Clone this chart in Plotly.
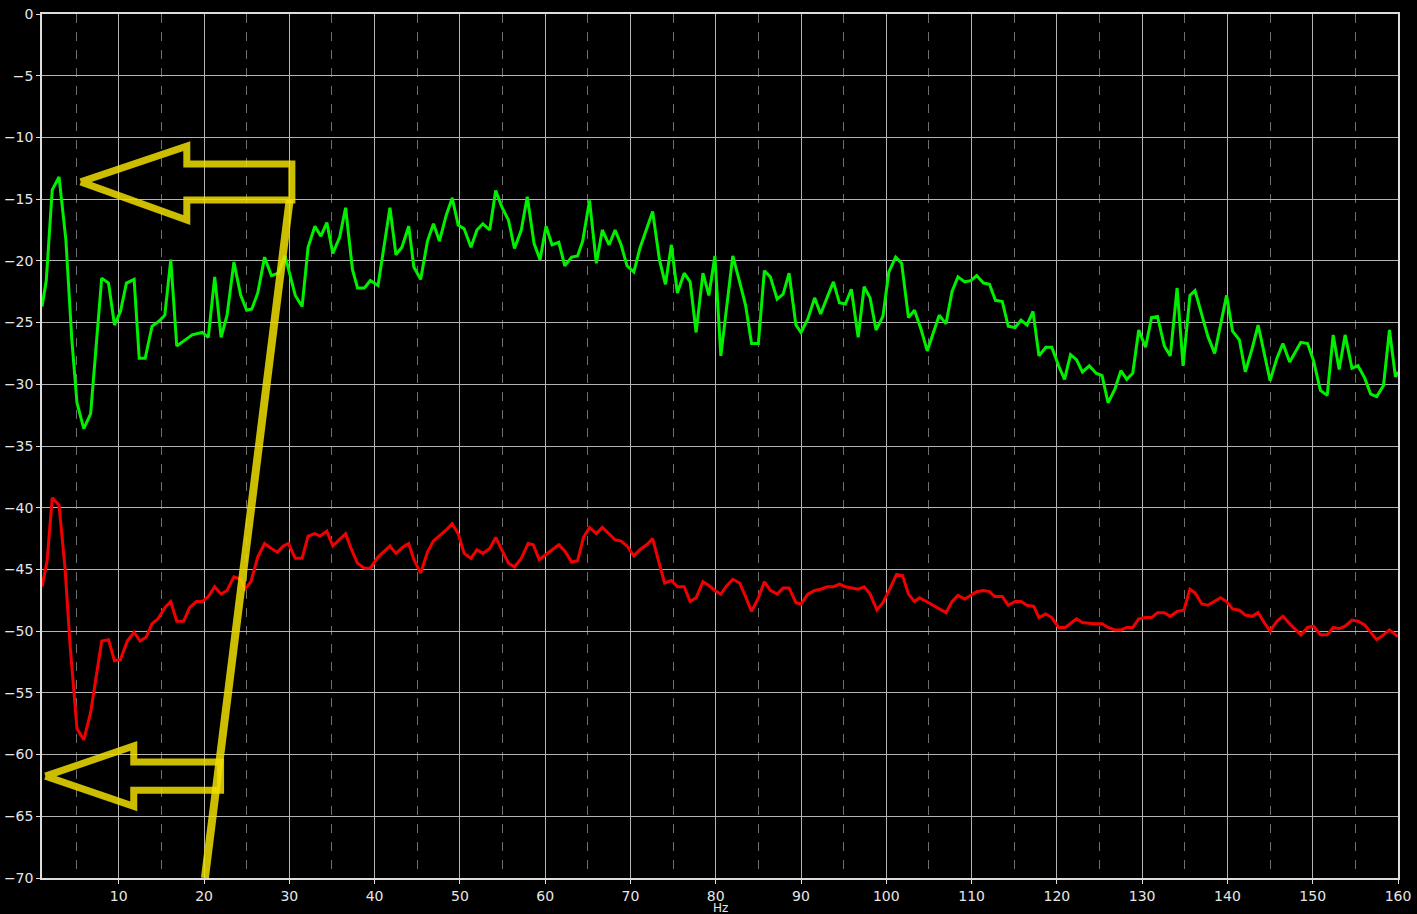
import plotly.graph_objects as go

# ---- data ----
green_hz = [1.0, 1.5, 2.2, 3.0, 3.8, 4.5, 5.1, 5.9, 6.7, 7.3, 8.0, 8.8, 9.5, 10.2, 10.9, 11.8, 12.4, 13.1,
            13.9, 14.7, 15.4, 16.1, 16.8, 17.8, 18.6, 19.8, 20.5, 21.25, 22.0, 22.7, 23.5, 24.3, 25.0, 25.6,
            26.3, 27.1, 27.9, 28.7, 29.5, 30.7, 31.5, 32.2, 33.0, 33.7, 34.4, 35.1, 35.9, 36.6, 37.4, 38.0,
            38.8, 39.5, 40.4, 41.8, 42.5, 43.2, 44.0, 44.6, 45.4, 46.2, 46.9, 47.6, 48.4, 49.1, 49.8, 50.5,
            51.3, 52.0, 52.7, 53.5, 54.2, 54.9, 55.7, 56.4, 57.2, 57.9, 58.7, 59.4, 60.1, 60.8, 61.6, 62.3,
            63.1, 63.8, 64.4, 65.2, 66.0, 66.7, 67.5, 68.2, 68.9, 69.6, 70.4, 71.1, 71.9, 72.6, 73.4, 74.1,
            74.8, 75.5, 76.3, 77.0, 77.7, 78.5, 79.2, 79.9, 80.6, 82.0, 82.8, 83.5, 84.2, 85.0, 85.7, 86.4,
            87.2, 87.9, 88.6, 89.4, 90.0, 90.8, 91.6, 92.3, 93.1, 93.8, 94.5, 95.2, 95.9, 96.7, 97.4, 98.1,
            98.8, 99.6, 100.3, 101.1, 101.8, 102.6, 103.3, 104.1, 104.8, 105.5, 106.2, 107.0, 107.7, 108.4,
            109.2, 109.9, 110.6, 111.4, 112.1, 112.8, 113.6, 114.3, 115.1, 115.8, 116.5, 117.2, 117.9, 118.7,
            119.4, 120.2, 120.9, 121.6, 122.3, 123.0, 123.8, 124.6, 125.3, 126.0, 126.8, 127.5, 128.2, 128.9,
            129.6, 130.4, 131.1, 131.8, 132.6, 133.3, 134.1, 134.8, 135.6, 136.2, 137.0, 137.7, 138.5, 139.2,
            139.9, 140.6, 141.4, 142.1, 142.9, 143.6, 144.3, 145.0, 145.8, 146.5, 147.3, 148.0, 148.6, 149.4,
            150.1, 150.9, 151.7, 152.4, 153.1, 153.8, 154.6, 155.3, 156.1, 156.8, 157.5, 158.3, 159.0, 159.7,
            160.0]
green_db = [-23.7, -21.6, -14.25, -13.2, -18.3, -26.4, -31.5, -33.6, -32.4, -27.0, -21.4, -21.8, -25.2, -24.1,
            -21.8, -21.5, -27.9, -27.9, -25.3, -24.9, -24.4, -19.9, -26.9, -26.4, -26.0, -25.8, -26.2, -21.3,
            -26.2, -24.4, -20.1, -22.8, -24.0, -23.9, -22.6, -19.7, -21.2, -21.0, -19.6, -22.8, -23.7, -18.9,
            -17.2, -18.0, -16.9, -19.4, -18.1, -15.7, -20.7, -22.2, -22.2, -21.6, -22.0, -15.7, -19.5, -18.9,
            -17.2, -20.5, -21.5, -18.4, -17.0, -18.4, -16.3, -14.9, -17.1, -17.4, -18.9, -17.5, -17.0, -17.5,
            -14.3, -15.6, -16.7, -19.0, -17.5, -14.8, -18.6, -19.9, -17.2, -18.7, -18.5, -20.4, -19.7, -19.6,
            -18.4, -15.1, -20.2, -17.5, -18.7, -17.5, -18.7, -20.4, -20.9, -19.0, -17.4, -16.0, -19.9, -21.9,
            -18.7, -22.6, -21.0, -21.7, -25.8, -21.0, -22.8, -19.6, -27.7, -19.6, -21.7, -23.6, -26.7, -26.7,
            -20.8, -21.3, -23.1, -22.7, -21.0, -25.2, -25.8, -24.7, -23.0, -24.3, -22.9, -21.7, -23.4, -23.5,
            -22.3, -26.2, -22.1, -23.0, -25.6, -24.5, -20.9, -19.7, -20.2, -24.6, -24.0, -25.6, -27.3, -25.9,
            -24.4, -25.1, -22.5, -21.3, -21.7, -21.6, -21.2, -21.8, -21.9, -23.2, -23.3, -25.3, -25.4, -24.8,
            -25.2, -24.1, -27.7, -27.0, -27.0, -28.5, -29.6, -27.6, -28.0, -29.0, -28.5, -29.1, -29.3, -31.5,
            -30.4, -28.9, -29.6, -29.1, -25.6, -27.0, -24.6, -24.5, -26.9, -27.7, -22.2, -28.5, -22.8, -22.4,
            -24.3, -26.1, -27.5, -25.2, -22.8, -25.7, -26.4, -29.0, -27.1, -25.2, -27.6, -29.7, -27.9, -26.7,
            -28.2, -27.4, -26.6, -26.7, -28.1, -30.5, -30.9, -26.0, -28.8, -26.0, -28.7, -28.5, -29.5, -30.8,
            -31.0, -30.1, -25.6, -29.4, -29.0]

red_hz = [1.0, 1.6, 2.2, 3.0, 3.7, 4.3, 5.1, 5.9, 6.7, 7.3, 8.0, 8.8, 9.5, 10.2, 11.0, 11.8, 12.5, 13.2, 13.9,
          14.6, 15.4, 16.1, 16.8, 17.6, 18.3, 19.1, 19.8, 20.5, 21.25, 22.0, 22.7, 23.5, 24.3, 24.8, 25.5,
          26.3, 27.1, 27.9, 28.6, 29.3, 29.9, 30.7, 31.5, 32.2, 33.0, 33.6, 34.4, 35.1, 35.9, 36.6, 37.3,
          38.0, 38.8, 39.5, 40.4, 41.8, 42.5, 43.3, 44.0, 44.6, 45.4, 46.2, 46.9, 47.6, 48.4, 49.1, 49.8,
          50.5, 51.3, 52.0, 52.7, 53.5, 54.2, 54.9, 55.7, 56.4, 57.2, 58.0, 58.6, 59.3, 60.1, 60.8, 61.6,
          62.3, 63.1, 63.8, 64.5, 65.2, 66.0, 66.7, 67.5, 68.2, 68.9, 69.6, 70.4, 71.1, 71.9, 72.6, 73.4,
          74.0, 74.8, 75.5, 76.3, 77.0, 77.7, 78.5, 79.2, 79.9, 80.6, 81.2, 82.0, 82.8, 83.5, 84.2, 85.0,
          85.7, 86.4, 87.2, 87.9, 88.6, 89.4, 90.0, 90.8, 91.6, 92.3, 93.1, 93.8, 94.5, 95.2, 95.9, 96.7,
          97.4, 98.1, 98.9, 99.6, 100.4, 101.2, 101.9, 102.6, 103.3, 103.9, 104.7, 105.5, 106.3, 107.0,
          107.7, 108.4, 109.2, 109.9, 110.6, 111.4, 112.1, 112.7, 113.6, 114.3, 115.1, 115.8, 116.5, 117.3,
          117.9, 118.7, 119.4, 120.2, 121.0, 122.3, 123.0, 124.3, 125.3, 126.0, 126.8, 127.5, 128.2, 128.9,
          129.6, 130.4, 131.1, 131.8, 132.6, 133.3, 134.1, 134.9, 135.6, 136.2, 137.0, 137.7, 138.5, 139.2,
          139.9, 140.6, 141.4, 142.1, 142.9, 143.6, 144.3, 145.0, 145.8, 146.5, 147.3, 148.0, 148.6, 149.4,
          150.1, 150.9, 151.7, 152.4, 153.1, 153.8, 154.6, 155.3, 156.1, 156.8, 157.5, 158.3, 159.0, 159.7,
          160.0]
red_db = [-46.4, -44.3, -39.2, -39.8, -44.9, -51.2, -57.9, -58.8, -56.6, -53.8, -50.8, -50.7, -52.4, -52.3,
          -50.8, -50.1, -50.8, -50.5, -49.4, -49.0, -48.1, -47.6, -49.2, -49.2, -48.1, -47.6, -47.6, -47.2,
          -46.4, -47.0, -46.7, -45.6, -45.8, -46.6, -46.0, -44.0, -42.9, -43.3, -43.6, -43.1, -42.9, -44.1,
          -44.1, -42.3, -42.1, -42.3, -41.9, -43.1, -42.6, -42.1, -43.4, -44.5, -44.9, -44.9, -44.0, -43.1,
          -43.7, -43.2, -42.9, -44.2, -45.3, -43.6, -42.7, -42.3, -41.8, -41.3, -42.1, -43.7, -44.1, -43.4,
          -43.7, -43.3, -42.4, -43.4, -44.5, -44.8, -44.1, -42.9, -43.0, -44.2, -43.8, -43.4, -43.0, -43.5,
          -44.4, -44.3, -42.4, -41.6, -42.1, -41.6, -42.1, -42.6, -42.7, -43.1, -43.9, -43.4, -43.0, -42.5,
          -44.6, -46.1, -45.9, -46.4, -46.4, -47.6, -47.3, -46.0, -46.3, -46.7, -47.0, -46.4, -45.8, -46.1,
          -47.2, -48.4, -47.3, -46.0, -46.7, -47.0, -46.5, -46.5, -47.7, -47.8, -47.0, -46.7, -46.6, -46.4,
          -46.4, -46.2, -46.4, -46.5, -46.6, -46.4, -47.0, -48.3, -47.7, -46.6, -45.4, -45.5, -47.0, -47.6,
          -47.3, -47.6, -47.9, -48.2, -48.5, -47.6, -47.1, -47.4, -47.1, -46.8, -46.7, -46.8, -47.2, -47.2,
          -47.9, -47.6, -47.6, -47.9, -48.0, -48.9, -48.6, -48.9, -49.7, -49.7, -49.0, -49.3, -49.4, -49.4,
          -49.7, -49.9, -49.9, -49.7, -49.7, -49.0, -48.9, -48.9, -48.5, -48.5, -48.8, -48.4, -48.3, -46.6,
          -46.9, -47.8, -47.9, -47.6, -47.3, -47.6, -48.2, -48.3, -48.7, -48.8, -48.5, -49.3, -50.0, -49.2,
          -48.8, -49.4, -49.9, -50.3, -49.7, -49.6, -50.3, -50.3, -49.7, -49.8, -49.6, -49.1, -49.2, -49.5,
          -50.1, -50.7, -50.3, -49.9, -50.3, -50.4]

x_ticks = list(range(10, 170, 10))
y_ticks = list(range(0, -75, -5))
x_title = "Hz"

# yellow hand-drawn annotations (data coordinates)
arrow_top_x = [5.54, 17.98, 17.98, 30.3, 30.3, 17.98, 17.98, 5.54]
arrow_top_y = [-13.6, -10.7, -12.16, -12.16, -15.07, -15.07, -16.7, -13.6]
arrow_low_x = [1.4, 11.76, 11.76, 21.94, 21.94, 11.76, 11.76, 1.4]
arrow_low_y = [-61.75, -59.3, -60.6, -60.6, -62.9, -62.9, -64.2, -61.75]
slant_x = [20.1, 30.04]
slant_y = [-70.0, -15.07]

YELLOW = "rgba(240,222,0,0.85)"
GRID = "#b4b4b4"
TEXT = "#e6e6e6"

fig = go.Figure()
fig.add_trace(go.Scatter(x=green_hz, y=green_db, mode="lines",
                         line=dict(color="#00f000", width=3), showlegend=False, hoverinfo="skip"))
fig.add_trace(go.Scatter(x=red_hz, y=red_db, mode="lines",
                         line=dict(color="#f00000", width=3), showlegend=False, hoverinfo="skip"))
for xs, ys, w in [(arrow_top_x, arrow_top_y, 7), (arrow_low_x, arrow_low_y, 7), (slant_x, slant_y, 8)]:
    fig.add_trace(go.Scatter(x=xs, y=ys, mode="lines", line=dict(color=YELLOW, width=w),
                             showlegend=False, hoverinfo="skip"))

fig.update_layout(
    width=1417, height=914,
    paper_bgcolor="black", plot_bgcolor="black",
    margin=dict(l=42, r=19, t=14, b=36),
    font=dict(family="DejaVu Sans", size=14, color=TEXT),
    xaxis=dict(range=[1, 160], tickvals=x_ticks, showgrid=True, gridcolor=GRID, gridwidth=1,
               zeroline=False, showline=True, linecolor="#dddddd", linewidth=1.5, mirror=True,
               ticks="outside", ticklen=4, tickcolor="#dddddd",
               minor=dict(dtick=5, tick0=0, showgrid=True, gridcolor="#6e6e6e", griddash="dash",
                          gridwidth=1),
               automargin=False),
    yaxis=dict(range=[-70, 0], tickvals=y_ticks, showgrid=True, gridcolor=GRID, gridwidth=1,
               zeroline=False, showline=True, linecolor="#dddddd", linewidth=1.5, mirror=True,
               ticks="outside", ticklen=4, tickcolor="#dddddd", automargin=False),
    annotations=[dict(text=x_title, xref="paper", yref="paper", x=0.5, y=-0.0255,
                      xanchor="center", yanchor="top", showarrow=False, borderpad=0,
                      font=dict(size=12, color=TEXT))],
)

fig.write_html("out.html", config={"displayModeBar": False},
               post_script="document.body.style.margin='0';document.body.style.background='black';"
                           "document.documentElement.style.overflow='hidden';")
